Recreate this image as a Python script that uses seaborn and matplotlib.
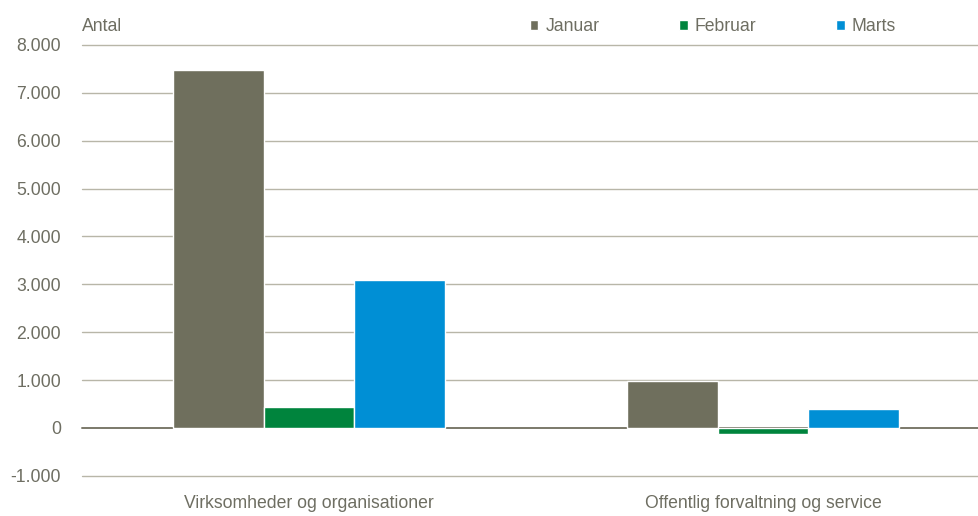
import matplotlib.pyplot as plt
import matplotlib.ticker as mticker
import seaborn as sns
import pandas as pd

categories = ["Virksomheder og organisationer", "Offentlig forvaltning og service"]
months = ["Januar", "Februar", "Marts"]
januar = [7470, 980]
februar = [440, -130]
marts = [3100, 400]
colors = ["#6f6f5d", "#00843d", "#008fd5"]

rows = []
for m, vals in zip(months, [januar, februar, marts]):
    for c, v in zip(categories, vals):
        rows.append({"kategori": c, "måned": m, "antal": v})
df = pd.DataFrame(rows)

sns.set_style("white")
plt.rcParams["font.family"] = ["Liberation Sans", "DejaVu Sans"]
txt = "#6e6e62"
fs = 12.7

fig = plt.figure(figsize=(9.79, 5.16), dpi=100)
ax = fig.add_axes([82 / 979, 38 / 516, 897 / 979, 433 / 516])

sns.barplot(data=df, x="kategori", y="antal", hue="måned", hue_order=months,
            palette=colors, width=0.6, edgecolor="white", linewidth=1,
            saturation=1, ax=ax, zorder=3)

ax.set_ylim(-1045, 8000)
ax.set_xlim(-0.5, 1.476)
ax.set_yticks(range(-1000, 8001, 1000))
ax.yaxis.set_major_formatter(mticker.FuncFormatter(lambda v, p: f"{int(v):,}".replace(",", ".")))
for y in range(-1000, 8001, 1000):
    ax.axhline(y, color="#7b796a" if y == 0 else "#b8b6a8", lw=1.4 if y == 0 else 1.0,
               zorder=1, clip_on=False)
for s in ax.spines.values():
    s.set_visible(False)
ax.tick_params(axis="y", length=0, pad=15, labelsize=fs, labelcolor=txt)
ax.tick_params(axis="x", length=0, pad=12, labelsize=fs, labelcolor=txt)
ax.set_xlabel("")
ax.set_ylabel("")
ax.text(0, 1.022, "Antal", transform=ax.transAxes, fontsize=fs, color=txt, va="bottom")

ax.legend(loc="lower left", bbox_to_anchor=(0.497, 1.018), ncol=3, frameon=False,
          fontsize=fs, labelcolor=txt, handlelength=0.5, handleheight=0.5,
          handletextpad=0.4, columnspacing=4.5, borderaxespad=0.1, borderpad=0)

plt.savefig("out.png", dpi=100)
